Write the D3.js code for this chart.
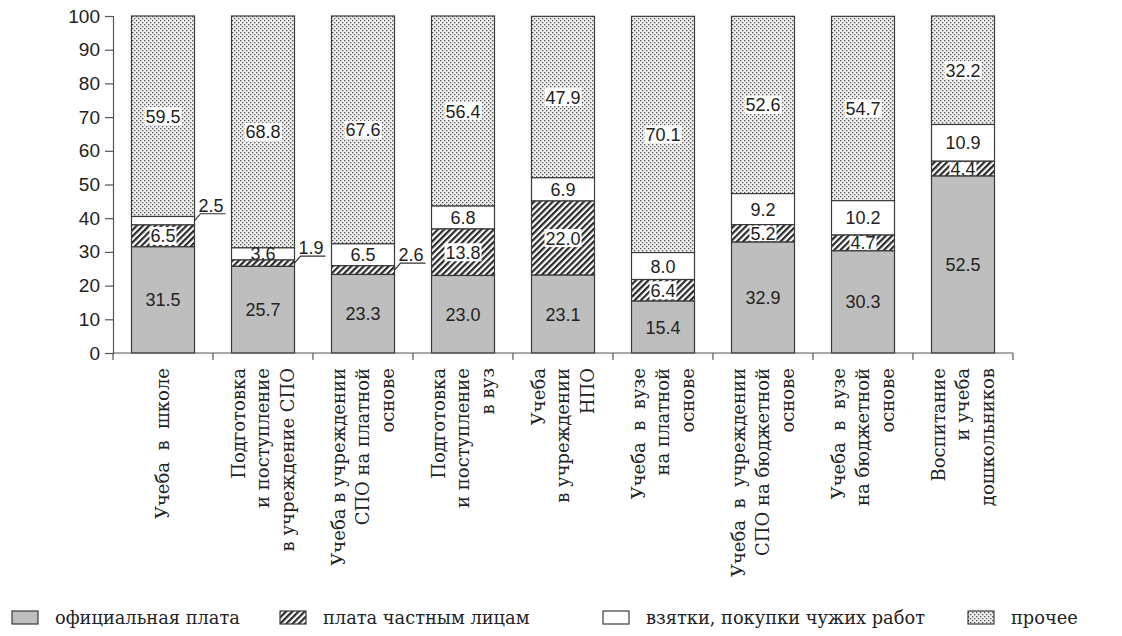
<!DOCTYPE html>
<html><head><meta charset="utf-8">
<script src="https://cdn.jsdelivr.net/npm/d3@7"></script>
<style>
html,body{margin:0;padding:0;background:#fff;}
svg{display:block;}
</style></head>
<body>
<svg id="chart" width="1122" height="636"></svg>
<script>
const categories = [
  ["Учеба  в  школе"],
  ["Подготовка", "и поступление", "в учреждение СПО"],
  ["Учеба в учреждении", "СПО на платной", "основе"],
  ["Подготовка", "и поступление", "в вуз"],
  ["Учеба", "в учреждении", "НПО"],
  ["Учеба  в  вузе", "на платной", "основе"],
  ["Учеба  в  учреждении", "СПО на бюджетной", "основе"],
  ["Учеба  в  вузе", "на бюджетной", "основе"],
  ["Воспитание", "и учеба", "дошкольников"]
];
const seriesNames = ["официальная плата", "плата частным лицам", "взятки, покупки чужих работ", "прочее"];
const official = [31.5, 25.7, 23.3, 23.0, 23.1, 15.4, 32.9, 30.3, 52.5];
const privatePay = [6.5, 1.9, 2.6, 13.8, 22.0, 6.4, 5.2, 4.7, 4.4];
const bribes = [2.5, 3.6, 6.5, 6.8, 6.9, 8.0, 9.2, 10.2, 10.9];
const other = [59.5, 68.8, 67.6, 56.4, 47.9, 70.1, 52.6, 54.7, 32.2];
const yTicks = [0, 10, 20, 30, 40, 50, 60, 70, 80, 90, 100];

const SANS = "'Liberation Sans', Arial, sans-serif";
const SERIF = "'DejaVu Serif', 'Liberation Serif', serif";

const svg = d3.select("#chart");
const defs = svg.append("defs");
const hp = defs.append("pattern").attr("id", "hatch").attr("patternUnits", "userSpaceOnUse")
  .attr("width", 4.4).attr("height", 4.4).attr("patternTransform", "rotate(45)");
hp.append("rect").attr("width", 4.4).attr("height", 4.4).attr("fill", "#fff");
hp.append("rect").attr("x", 0).attr("y", 0).attr("width", 2.2).attr("height", 4.4).attr("fill", "#2a2a2a");
const dp = defs.append("pattern").attr("id", "dots").attr("patternUnits", "userSpaceOnUse")
  .attr("width", 4).attr("height", 4);
dp.append("rect").attr("width", 4).attr("height", 4).attr("fill", "#f0f0f0");
dp.append("rect").attr("x", 0).attr("y", 0).attr("width", 1.3).attr("height", 1.3).attr("fill", "#555");
dp.append("rect").attr("x", 2).attr("y", 2).attr("width", 1.3).attr("height", 1.3).attr("fill", "#555");

const fills = ["#bebebe", "url(#hatch)", "#ffffff", "url(#dots)"];
const labelBg = [false, true, false, true];

const x0 = 113, x1 = 1013, yTop = 16, yBot = 353;
const x = d3.scaleBand().domain(d3.range(categories.length)).range([x0, x1]).paddingInner(0.37).paddingOuter(0.185);
const xb = d3.scaleBand().domain(d3.range(categories.length)).range([x0, x1]);
const y = d3.scaleLinear().domain([0, 100]).range([yBot, yTop]);

const table = categories.map((c, i) => ({i, official: official[i], privatePay: privatePay[i], bribes: bribes[i], other: other[i]}));
const keys = ["official", "privatePay", "bribes", "other"];
const stacked = d3.stack().keys(keys)(table);

const axisColor = "#555";
const yAxis = svg.append("g").attr("transform", `translate(${x0},0)`)
  .call(d3.axisLeft(y).tickValues(yTicks).tickSize(8).tickPadding(5).tickFormat(d3.format("d")));
yAxis.select(".domain").attr("stroke", axisColor).attr("stroke-width", 1.2);
yAxis.selectAll(".tick line").attr("stroke", axisColor).attr("stroke-width", 1.2);
yAxis.selectAll("text").attr("font-family", SANS).attr("font-size", 19).attr("fill", "#222");

const barsG = svg.append("g");
for (let s = keys.length - 1; s >= 0; s--) {
  const layer = stacked[s];
  const g = barsG.append("g");
  g.selectAll("rect").data(layer).join("rect")
    .attr("x", (d, i) => x(i)).attr("width", x.bandwidth())
    .attr("y", d => y(d[1])).attr("height", d => y(d[0]) - y(d[1]))
    .attr("fill", fills[s]).attr("stroke", "#3a3a3a").attr("stroke-width", 1.2);
  layer.forEach((d, i) => {
    const v = d[1] - d[0];
    if (v < 3) return;
    const cx = x(i) + x.bandwidth() / 2, cy = y((d[0] + d[1]) / 2);
    const t = g.append("text").attr("x", cx).attr("y", cy).attr("dy", "0.36em")
      .attr("text-anchor", "middle").attr("font-family", SANS)
      .attr("font-size", 18).attr("fill", "#222").text(v.toFixed(1));
    if (labelBg[s]) {
      const bb = t.node().getBBox();
      const segH = y(d[0]) - y(d[1]);
      const h = Math.min(bb.height - 2, segH - 2);
      g.insert("rect", () => t.node()).attr("x", bb.x - 1).attr("y", cy - h / 2)
        .attr("width", bb.width + 2).attr("height", h)
        .attr("fill", "#fff");
    }
  });
}
[2, 1].forEach(s => {
  stacked[s].forEach((d, i) => {
    const v = d[1] - d[0];
    if (v >= 3) return;
    const bx = x(i) + x.bandwidth(), my = y((d[0] + d[1]) / 2);
    const ly = my - 7;
    svg.append("path").attr("d", `M${bx},${my}L${bx + 6},${ly}L${bx + 31},${ly}`)
      .attr("fill", "none").attr("stroke", "#333").attr("stroke-width", 1.2);
    svg.append("text").attr("x", bx + 4).attr("y", ly - 2)
      .attr("font-family", SANS).attr("font-size", 18).attr("fill", "#222")
      .text(v.toFixed(1));
  });
});

const xAxisG = svg.append("g");
xAxisG.append("line").attr("x1", x0).attr("x2", x1).attr("y1", yBot).attr("y2", yBot)
  .attr("stroke", axisColor).attr("stroke-width", 1.2);
const bounds = d3.range(categories.length + 1).map(i => i < categories.length ? xb(i) : x1);
xAxisG.selectAll("line.t").data(bounds).join("line").attr("class", "t")
  .attr("x1", d => d).attr("x2", d => d).attr("y1", yBot).attr("y2", yBot + 7)
  .attr("stroke", axisColor).attr("stroke-width", 1.2);

categories.forEach((lines, i) => {
  const cx = xb(i) + xb.bandwidth() / 2;
  const n = lines.length;
  lines.forEach((ln, k) => {
    const lx = cx + (k - (n - 1) / 2) * 24.5;
    svg.append("text").attr("transform", `translate(${lx},368) rotate(-90)`)
      .attr("dy", "0.35em").attr("text-anchor", "end")
      .attr("font-family", SERIF).attr("font-size", 18)
      .attr("fill", "#222").style("white-space", "pre").text(ln);
  });
});

const legX = [12, 280, 603, 968];
const legend = svg.append("g");
seriesNames.forEach((nm, s) => {
  legend.append("rect").attr("x", legX[s]).attr("y", 611).attr("width", 26).attr("height", 13)
    .attr("fill", fills[s]).attr("stroke", "#3a3a3a").attr("stroke-width", 1.2);
  legend.append("text").attr("x", legX[s] + 43).attr("y", 624)
    .attr("font-family", SERIF).attr("font-size", 17.8)
    .attr("fill", "#222").text(nm);
});
</script>
</body></html>
